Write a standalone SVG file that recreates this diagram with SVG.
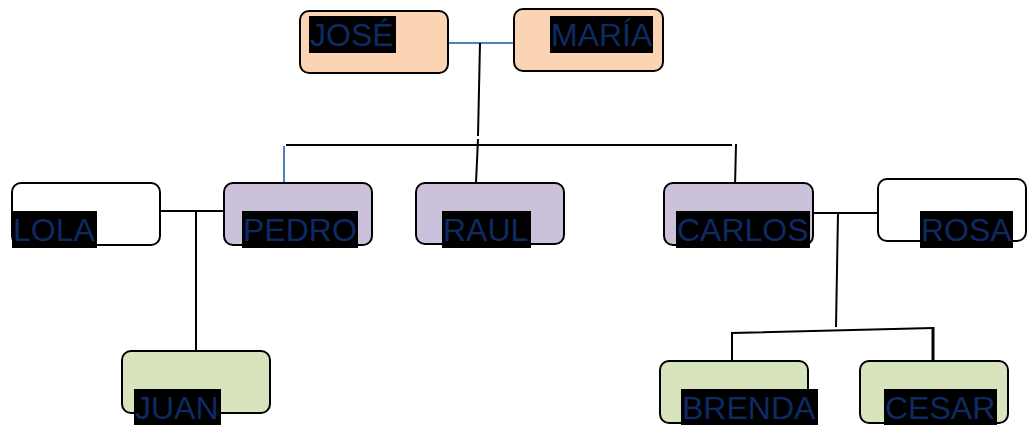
<svg xmlns="http://www.w3.org/2000/svg" width="1029" height="425" viewBox="0 0 1029 425">
<style>
.box{stroke:#000;stroke-width:2}
.peach{fill:#FBD4B4}
.lilac{fill:#CCC1DA}
.green{fill:#D7E4BD}
.white{fill:#fff}
.bg{fill:#000}
.t{font-family:"Liberation Sans",Arial,sans-serif;font-size:32px;fill:#0E2A63}
.ln{stroke:#000;stroke-width:2;fill:none}
.bl{stroke:#4F81BD;stroke-width:2;fill:none}
</style>
<rect width="1029" height="425" fill="#fff"/>
<g id="connectors">
<line class="bl" x1="448" y1="43" x2="513" y2="43"/>
<polyline class="ln" points="480,43 478,136"/>
<line class="ln" x1="478" y1="139" x2="476" y2="183"/>
<line class="ln" x1="286" y1="145" x2="732" y2="145"/>
<line class="bl" x1="284" y1="146" x2="284" y2="183"/>
<line class="ln" x1="736" y1="144" x2="735" y2="187"/>
<line class="ln" x1="157" y1="211" x2="223" y2="211"/>
<line class="ln" x1="196" y1="211" x2="196" y2="351"/>
<line class="ln" x1="813" y1="213" x2="878" y2="213"/>
<line class="ln" x1="838" y1="213" x2="836" y2="327"/>
<polyline class="ln" points="732,361 732,333 933,328"/>
<line x1="933" y1="327" x2="933" y2="361" stroke="#000" stroke-width="3"/>
</g>
<g id="jose">
<rect class="box peach" x="300" y="11" width="148" height="62" rx="9"/>
<rect class="bg" x="309" y="16" width="87" height="37"/>
<text class="t" x="310" y="46">JOSÉ</text>
</g>
<g id="maria">
<rect class="box peach" x="514" y="9" width="149" height="62" rx="9"/>
<rect class="bg" x="550" y="16" width="103" height="37"/>
<text class="t" x="551" y="46">MARÍA</text>
</g>
<g id="lola">
<rect class="box white" x="12" y="183" width="148" height="62" rx="9"/>
<rect class="bg" x="12" y="211" width="85" height="37"/>
<text class="t" x="13" y="241">LOLA</text>
</g>
<g id="pedro">
<rect class="box lilac" x="224" y="183" width="148" height="62" rx="9"/>
<rect class="bg" x="242" y="211" width="116" height="37"/>
<text class="t" x="243" y="241">PEDRO</text>
</g>
<g id="raul">
<rect class="box lilac" x="416" y="183" width="148" height="61" rx="9"/>
<rect class="bg" x="442" y="211" width="89" height="37"/>
<text class="t" x="443" y="241">RAUL</text>
</g>
<g id="carlos">
<rect class="box lilac" x="664" y="183" width="149" height="62" rx="9"/>
<rect class="bg" x="676" y="211" width="134" height="37"/>
<text class="t" x="677" y="241">CARLOS</text>
</g>
<g id="rosa">
<rect class="box white" x="878" y="179" width="148" height="62" rx="9"/>
<rect class="bg" x="920" y="211" width="93" height="37"/>
<text class="t" x="921" y="241">ROSA</text>
</g>
<g id="juan">
<rect class="box green" x="122" y="351" width="148" height="62" rx="9"/>
<rect class="bg" x="134" y="389" width="87" height="36"/>
<text class="t" x="135" y="419">JUAN</text>
</g>
<g id="brenda">
<rect class="box green" x="660" y="361" width="148" height="62" rx="9"/>
<rect class="bg" x="681" y="389" width="137" height="36"/>
<text class="t" x="682" y="419">BRENDA</text>
</g>
<g id="cesar">
<rect class="box green" x="860" y="361" width="148" height="62" rx="9"/>
<rect class="bg" x="884" y="389" width="113" height="36"/>
<text class="t" x="885" y="419">CESAR</text>
</g>
</svg>
